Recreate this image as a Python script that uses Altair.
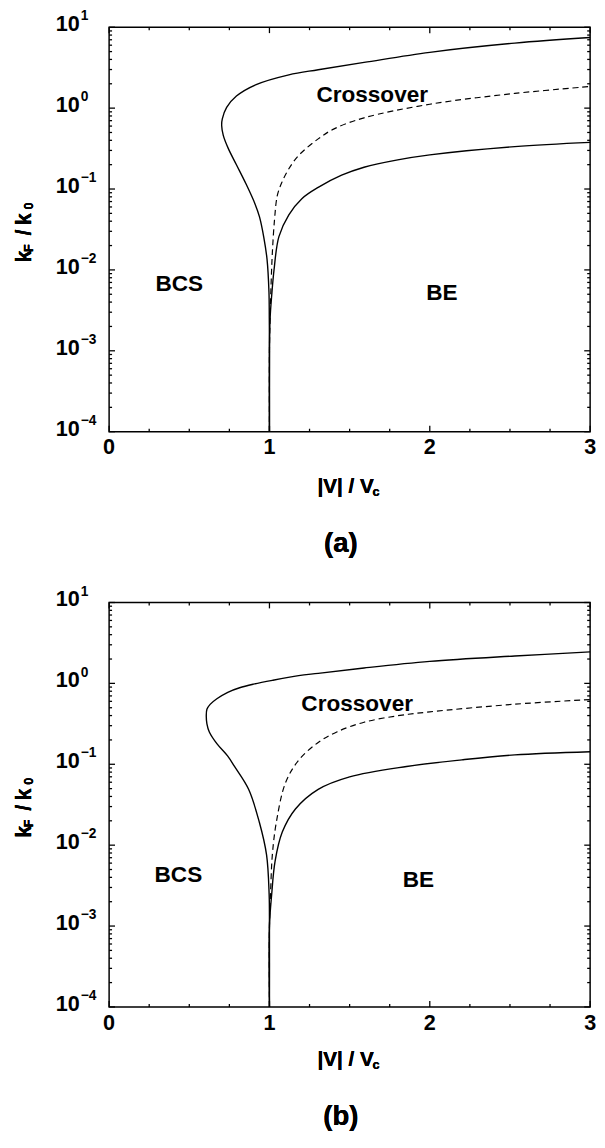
import altair as alt
import pandas as pd

FONT = "Liberation Sans"
W, H = 490, 412

# ---------------- panel (a) ----------------
a_outer_x = [1.0, 1.0, 0.999, 0.997, 0.985, 0.965, 0.938, 0.91, 0.855, 0.794, 0.743, 0.712, 0.702, 0.706,
             0.733, 0.794, 0.917, 1.121, 1.304, 1.59, 2.0, 2.53, 3.0]
a_outer_y = [1e-4, 1e-3, 2.5e-3, 5.3e-3, 1.35e-2, 2.51e-2, 4.52e-2, 6.55e-2, 0.1143, 0.1995, 0.318, 0.461, 0.61, 0.736,
             1.019, 1.409, 1.954, 2.582, 2.985, 3.673, 4.898, 6.368, 7.464]
a_dash_x = [1.0, 1.0, 1.004, 1.01, 1.018, 1.032, 1.049, 1.075, 1.121, 1.182, 1.304, 1.40, 1.59, 2.0, 2.53, 3.0]
a_dash_y = [1e-4, 1e-3, 2.5e-3, 6.46e-3, 1.62e-2, 4.27e-2, 8.32e-2, 0.1175, 0.178, 0.260, 0.417, 0.55, 0.759,
            1.117, 1.52, 1.85]
a_lower_x = [1.0, 1.0, 1.004, 1.014, 1.029, 1.059, 1.121, 1.202, 1.304, 1.45, 1.59, 1.8, 2.0, 2.53, 3.0]
a_lower_y = [1e-4, 1e-3, 2.5e-3, 4.84e-3, 1.02e-2, 2.58e-2, 4.79e-2, 7.59e-2, 0.1047, 0.148, 0.186, 0.229, 0.264,
             0.334, 0.377]

# ---------------- panel (b) ----------------
b_outer_x = [1.0, 1.0, 0.998, 0.982, 0.937, 0.87, 0.782, 0.74, 0.672, 0.625, 0.61, 0.606, 0.61, 0.63, 0.672,
             0.74, 0.814, 0.9, 1.018, 1.182, 1.304, 1.59, 2.0, 2.53, 3.0]
b_outer_y = [1e-4, 1e-3, 2.47e-3, 7.59e-3, 1.92e-2, 4.9e-2, 9.4e-2, 0.126, 0.18, 0.251, 0.316, 0.398, 0.479, 0.55,
             0.646, 0.776, 0.883, 0.977, 1.09, 1.245, 1.33, 1.55, 1.87, 2.18, 2.45]
b_dash_x = [1.0, 1.0, 1.008, 1.018, 1.043, 1.1, 1.182, 1.304, 1.42, 1.59, 1.8, 2.0, 2.53, 3.0]
b_dash_y = [1e-4, 1e-3, 2.95e-3, 7.59e-3, 1.92e-2, 5.89e-2, 0.1122, 0.1862, 0.2512, 0.3311, 0.398, 0.4446,
            0.553, 0.631]
b_lower_x = [1.0, 1.0, 1.014, 1.035, 1.08, 1.162, 1.304, 1.5, 1.855, 2.2, 2.53, 3.0]
b_lower_y = [1e-4, 1e-3, 2.47e-3, 6.31e-3, 1.45e-2, 2.8e-2, 4.9e-2, 7.0e-2, 9.4e-2, 0.1135, 0.1306, 0.143]

# region labels: text, x, y
a_notes = [("BCS", 0.438, 6.7e-3), ("BE", 2.076, 5.2e-3), ("Crossover", 1.641, 1.44)]
b_notes = [("BCS", 0.432, 4.3e-3), ("BE", 1.929, 3.65e-3), ("Crossover", 1.547, 0.548)]

# axis ticks
x_major = [0, 1, 2, 3]
x_major_labels = ["0", "1", "2", "3"]
x_minor = [0.25, 0.5, 0.75, 1.25, 1.5, 1.75, 2.25, 2.5, 2.75]
y_major = [1e-4, 1e-3, 1e-2, 1e-1, 1, 10]
y_major_exp = ["\u22124", "\u22123", "\u22122", "\u22121", "0", "1"]
decades = [1e-4, 1e-3, 1e-2, 1e-1, 1]
mults = [2, 3, 4, 5, 6, 7, 8, 9]
y_minor = [d * m for d in decades for m in mults]

xscale = alt.Scale(domain=[0, 3], nice=False, zero=False)
yscale = alt.Scale(type="log", domain=[1e-4, 10], nice=False)
X = alt.X("x:Q", scale=xscale, axis=None)
Y = alt.Y("y:Q", scale=yscale, axis=None)

BOLD = dict(font=FONT, fontWeight="bold", color="black")


def curve_df(xs, ys, name):
    return pd.DataFrame({"x": xs, "y": ys, "i": list(range(len(xs))), "s": name})


def panel(outer, lower, dashed, notes, tag, tag_y, xt_y):
    solid = pd.concat([curve_df(*outer, "outer"), curve_df(*lower, "lower")])
    dash = curve_df(*dashed, "dash")
    layers = []
    layers.append(alt.Chart(solid).mark_line(color="black", strokeWidth=1.4, interpolate="catmull-rom").encode(
        X, Y, detail="s:N", order="i:Q"))
    layers.append(alt.Chart(dash).mark_line(color="black", strokeWidth=1.2, strokeDash=[6, 4],
                                            interpolate="catmull-rom").encode(X, Y, order="i:Q"))

    xmaj = pd.DataFrame({"x": x_major, "t": x_major_labels})
    xmin = pd.DataFrame({"x": x_minor})
    ymaj = pd.DataFrame({"y": y_major, "e": y_major_exp, "b": ["10"] * len(y_major)})
    ymin = pd.DataFrame({"y": y_minor})
    for df, ln in ((xmaj, 6), (xmin, 3)):
        tk = dict(orient="vertical", size=ln, thickness=1.3, color="black", opacity=1)
        layers.append(alt.Chart(df).mark_tick(**tk).encode(X, y=alt.value(H - ln / 2)))
        layers.append(alt.Chart(df).mark_tick(**tk).encode(X, y=alt.value(ln / 2)))
    for df, ln in ((ymaj, 6), (ymin, 3)):
        tk = dict(orient="horizontal", size=ln, thickness=1.3, color="black", opacity=1)
        layers.append(alt.Chart(df).mark_tick(**tk).encode(Y, x=alt.value(ln / 2)))
        layers.append(alt.Chart(df).mark_tick(**tk).encode(Y, x=alt.value(W - ln / 2)))

    # tick labels
    layers.append(alt.Chart(xmaj).mark_text(fontSize=22, align="center", baseline="middle", **BOLD).encode(
        X, y=alt.value(H + 16), text="t:N"))
    layers.append(alt.Chart(ymaj).mark_text(fontSize=22, align="right", baseline="middle", dy=-3, **BOLD).encode(
        Y, x=alt.value(-30), text="b:N"))
    layers.append(alt.Chart(ymaj).mark_text(fontSize=14, align="left", baseline="middle", dy=-11, **BOLD).encode(
        Y, x=alt.value(-29), text="e:N"))

    # region labels
    nd = pd.DataFrame(notes, columns=["t", "x", "y"])
    layers.append(alt.Chart(nd).mark_text(fontSize=23, align="center", baseline="middle", **BOLD).encode(
        X, Y, text="t:N"))

    # axis titles
    def txt(s, x, y, size, angle=0):
        kw = dict(fontSize=size, align="center", baseline="middle", text=s, **BOLD)
        if angle:
            kw["angle"] = angle
        return alt.Chart(nd).mark_text(**kw).encode(x=alt.value(x), y=alt.value(y))

    layers += [
        txt("|V| / V", 241, xt_y, 21), txt("c", 272, xt_y + 5, 13),
        txt("k", -87, 233.5, 22, 270), txt("F", -82, 225, 13, 270),
        txt("/", -87, 209, 22, 270), txt("k", -87, 195.5, 22, 270), txt("0", -82, 182, 13, 270),
        txt(tag, 236, tag_y, 28),
    ]
    return alt.layer(*layers).properties(width=W, height=H)


pa = panel((a_outer_x, a_outer_y), (a_lower_x, a_lower_y), (a_dash_x, a_dash_y), a_notes, "(a)", 526.5, 468.5)
pb = panel((b_outer_x, b_outer_y), (b_lower_x, b_lower_y), (b_dash_x, b_dash_y), b_notes, "(b)", 524.7, 466)

chart = alt.vconcat(pa, pb, spacing=174, bounds="flush").properties(
    padding={"left": 4, "top": -10, "right": 0, "bottom": 0}, background="white"
).configure_view(stroke="black", strokeWidth=1.5)

chart.save("out.html", embed_options={"renderer": "svg", "actions": False})
